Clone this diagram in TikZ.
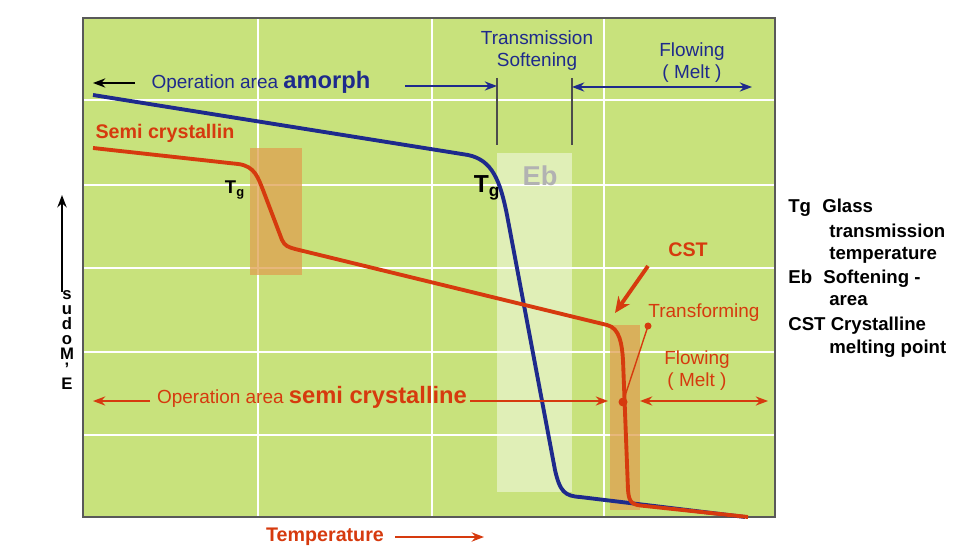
\documentclass[tikz,border=0pt]{standalone}
\usepackage{fontspec}
\setmainfont{Liberation Sans}
\usetikzlibrary{arrows.meta}
\definecolor{bg}{HTML}{C8E27C}
\definecolor{blu}{HTML}{1E2A8C}
\definecolor{rd}{HTML}{D63A0E}
\definecolor{org}{HTML}{E0A050}
\begin{document}
\begin{tikzpicture}[x=0.02cm,y=-0.02cm,
  txt/.style={inner sep=0pt,font=\fontsize{10.8}{12.5}\selectfont},
  bl/.style={txt,text=blu},
  rt/.style={txt,text=rd},
  lg/.style={txt,font=\fontsize{10.6}{12}\selectfont\bfseries,anchor=west},
  barr/.style={blu,-{Stealth[length=7pt]},line width=0.8pt},
  rarr/.style={rd,-{Stealth[length=7pt]},line width=0.8pt}]
\useasboundingbox (0,0) rectangle (980,560);
% plot area
\fill[bg] (83,18) rectangle (775,517);
\foreach \x in {258,432,604} \draw[white,line width=1pt] (\x,18) -- (\x,517);
\foreach \y in {100,185,268,352,435} \draw[white,line width=1pt] (83,\y) -- (775,\y);
\draw[gray!70!black,line width=0.6pt] (83,18) rectangle (775,517);
% shaded zones
\fill[org,opacity=0.75] (250,148) rectangle (302,275);
\fill[white,opacity=0.45] (497,153) rectangle (572,492);
\fill[org,opacity=0.75] (610,325) rectangle (640,510);
\draw[gray!60!black,line width=0.8pt] (497,78) -- (497,145) (572,78) -- (572,145);
% curves
\draw[blu,line width=2.2pt] (93,95) -- (468,155) .. controls (492,160) and (500,180) .. (507,215)
  -- (555,470) .. controls (560,492) and (565,496) .. (580,497) -- (745,517);
\draw[rd,line width=2.2pt] (93,148) -- (238,164) .. controls (255,166) and (258,178) .. (263,190)
  -- (282,240) .. controls (285,246) and (288,247) .. (295,249) -- (607,325)
  .. controls (620,328) and (622,345) .. (623,360) -- (628,490) .. controls (629,503) and (632,505) .. (645,506) -- (748,517);
% texts top
\node[bl] (amor) at (261,82) {Operation area \fontsize{13.5}{15}\selectfont\bfseries amorph};
\coordinate (l1) at (135,83); \coordinate (l0) at (93,83);
\draw[black,-{Stealth[length=7pt]},line width=0.9pt] (l1) -- (l0);
\coordinate (a1) at (405,86); \coordinate (a2) at (497,86);
\draw[barr] (a1) -- (a2);
\node[bl,align=center] (ts) at (537,51) {Transmission\\Softening};
\node[bl,align=center] (fm) at (692,63) {Flowing\\( Melt )};
\coordinate (d1) at (572,87); \coordinate (d2) at (752,87);
\draw[barr,{Stealth[length=7pt]}-{Stealth[length=7pt]}] (d1) -- (d2);
\node[rt,font=\fontsize{11.2}{13}\selectfont\bfseries] (semi) at (165,133) {Semi crystallin};
\node[txt,font=\fontsize{10.5}{12}\selectfont\bfseries] (tg1) at (235,190) {T\textsubscript{g}};
\node[txt,font=\fontsize{14}{16}\selectfont\bfseries] (tg2) at (487,188) {T\textsubscript{g}};
\node[txt,text=gray!60,font=\fontsize{15.5}{17}\selectfont\bfseries] (eb) at (540,176) {Eb};
% CST
\node[rt,font=\fontsize{11.2}{13}\selectfont\bfseries] (cst) at (688,250) {CST};
\coordinate (c1) at (648,266); \coordinate (c2) at (615,313);
\draw[rd,-{Stealth[length=9pt,width=8pt]},line width=2.2pt] (c1) -- (c2);
\node[rt] (trf) at (704,313) {Transforming};
\coordinate (t1) at (648,326); \coordinate (t2) at (623,402);
\draw[rd,line width=0.8pt] (t1) -- (t2);
\fill[rd] (t1) circle (3.5) (t2) circle (4.5);
\node[rt,align=center] (fm2) at (697,371) {Flowing\\( Melt )};
% semi operation arrows
\node[rt] (opsc) at (312,397) {Operation area \fontsize{13.5}{15}\selectfont\bfseries semi crystalline};
\coordinate (s1) at (150,401); \coordinate (s0) at (93,401);
\draw[rarr] (s1) -- (s0);
\coordinate (s2) at (470,401); \coordinate (s3) at (608,401);
\draw[rarr] (s2) -- (s3);
\coordinate (s4) at (640,401); \coordinate (s5) at (768,401);
\draw[rarr,{Stealth[length=7pt]}-{Stealth[length=7pt]}] (s4) -- (s5);
% temperature
\node[rt,font=\fontsize{11.2}{13}\selectfont\bfseries] (temp) at (325,537) {Temperature};
\coordinate (tp1) at (395,537); \coordinate (tp2) at (484,537);
\draw[rd,-{Stealth[length=7pt]},line width=1.5pt] (tp1) -- (tp2);
% y axis
\coordinate (y0) at (62,292); \coordinate (y1) at (62,195);
\draw[black,-{Stealth[length=7pt]},line width=1.5pt] (y0) -- (y1);
\node[txt,font=\fontsize{9.5}{8.6}\selectfont\bfseries,align=center] (ylab) at (67,340) {s\\u\\d\\o\\M\\'\\E};
% legend
\node[lg] (g1) at (788,208) {Tg\hspace{0.6em}Glass};
\node[lg] (g2) at (829,231) {transmission};
\node[lg] (g3) at (829,255) {temperature};
\node[lg] (g4) at (788,279) {Eb\hspace{0.6em}Softening -};
\node[lg] (g5) at (829,301) {area};
\node[lg] (g6) at (788,326) {CST Crystalline};
\node[lg] (g7) at (829,349) {melting point};
\end{tikzpicture}
\end{document}
